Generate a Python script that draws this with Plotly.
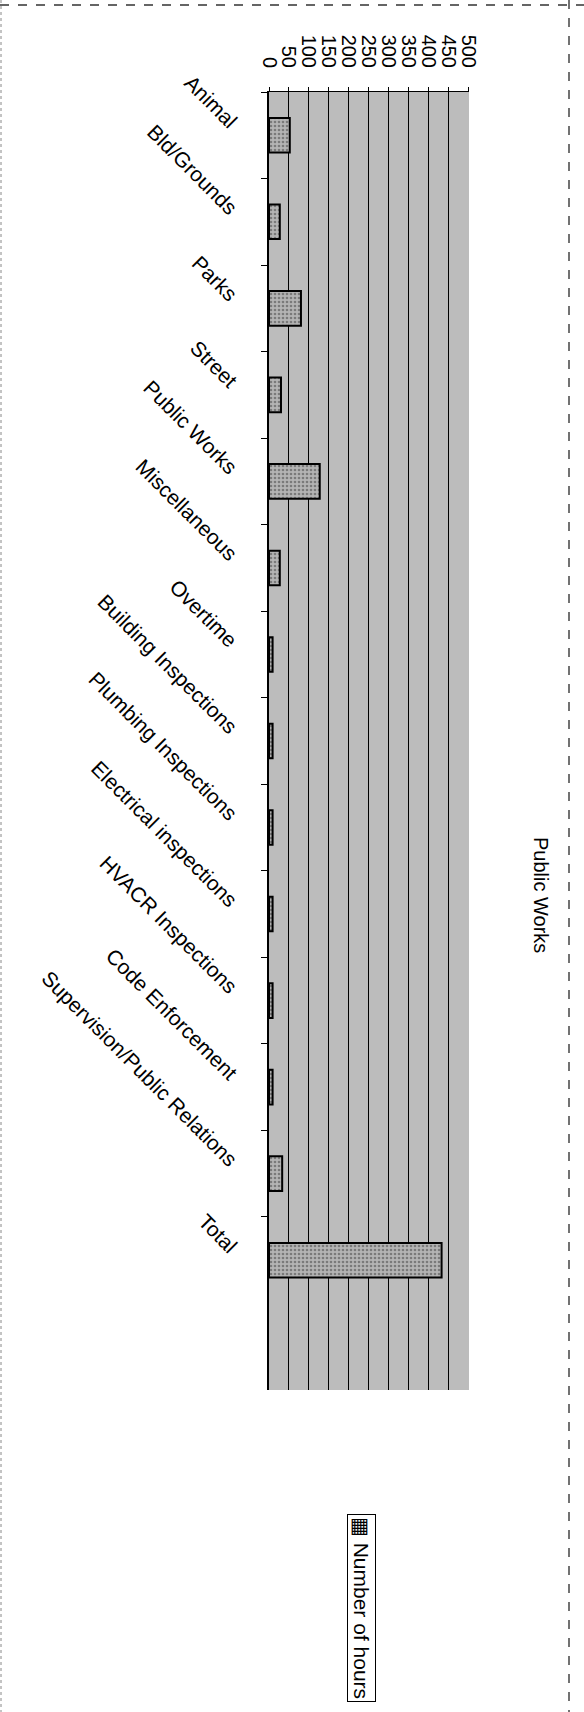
import plotly.graph_objects as go

categories = ["Animal", "Bld/Grounds", "Parks", "Street", "Public Works",
              "Miscellaneous", "Overtime", "Building Inspections",
              "Plumbing Inspections", "Electrical inspections",
              "HVACR Inspections", "Code Enforcement",
              "Supervision/Public Relations", "Total"]
hours = [52, 27, 80, 30, 127, 27, 9, 9, 9, 9, 9, 9, 33, 432]
x_ticks = [0, 50, 100, 150, 200, 250, 300, 350, 400, 450, 500]
series_name = "Number of hours"
chart_title = "Public Works"

W, H = 584, 1712
L, R, T, B = 269, 469, 92, 1390
FONT = "Liberation Sans, Arial, DejaVu Sans, sans-serif"

fig = go.Figure()
fig.add_trace(go.Bar(
    y=categories, x=hours, orientation="h", name=series_name,
    width=0.4,
    marker=dict(color="#a9a9a9", line=dict(color="black", width=2),
                pattern=dict(shape=".", fgcolor="#7a7a7a", bgcolor="#b4b4b4",
                             size=4, solidity=0.35)),
    showlegend=False,
))

def px(xp):
    return (xp - L) / (R - L)

def yp(ypix):
    return 1 - (ypix - T) / (B - T)

fig.update_layout(
    template="none",
    width=W, height=H,
    margin=dict(l=L, r=W - R, t=T, b=H - B, pad=0, autoexpand=False),
    paper_bgcolor="white",
    plot_bgcolor="#bcbcbc",
    font=dict(family=FONT, color="black", size=21),
    showlegend=False,
    xaxis=dict(
        side="top", range=[0, 500.6], tickvals=x_ticks,
        ticktext=[str(v) for v in x_ticks],
        tickangle=90, tickfont=dict(size=20),
        showgrid=True, gridcolor="black", gridwidth=1,
        showline=True, linecolor="black", linewidth=1,
        ticks="outside", ticklen=4, tickcolor="black",
        ticklabelstandoff=12,
        zeroline=False, fixedrange=True, automargin=False,
    ),
    yaxis=dict(
        type="category", categoryorder="array", categoryarray=categories,
        range=[len(categories) + 0.5, -0.5],
        tickangle=45, tickfont=dict(size=21),
        showgrid=False, showline=True, linecolor="black", linewidth=2,
        ticks="outside", ticklen=6, tickcolor="black", tickson="boundaries",
        ticklabelstandoff=27, ticklabelshift=10,
        zeroline=False, fixedrange=True, automargin=False,
    ),
    bargap=0.6,
)

# chart title (rotated like the scanned page)
fig.add_annotation(
    text=chart_title, textangle=90, showarrow=False,
    xref="paper", yref="paper",
    x=px(541), y=yp(895),
    xanchor="center", yanchor="middle",
    font=dict(size=20, family=FONT, color="black"),
)

# legend box (rotated)
fig.add_annotation(
    text="▦ " + series_name, textangle=90, showarrow=False,
    xref="paper", yref="paper",
    x=px(362), y=yp(1608),
    xanchor="center", yanchor="middle",
    font=dict(size=21, family=FONT, color="black"),
    bordercolor="black", borderwidth=1, borderpad=2, bgcolor="white",
)

# scanned page edges
fig.add_shape(type="line", xref="paper", yref="paper",
              x0=px(0), x1=px(584), y0=yp(5), y1=yp(5),
              line=dict(color="#333333", width=1.5, dash="dash"))
fig.add_shape(type="line", xref="paper", yref="paper",
              x0=px(569), x1=px(569), y0=yp(0), y1=yp(1712),
              line=dict(color="#444444", width=1.5, dash="dash"))
fig.add_shape(type="line", xref="paper", yref="paper",
              x0=px(1), x1=px(1), y0=yp(0), y1=yp(1712),
              line=dict(color="#888888", width=1, dash="dot"))

fig.write_html("out.html",
               config={"displayModeBar": False},
               post_script="document.body.style.margin='0';document.body.style.overflow='hidden';")
